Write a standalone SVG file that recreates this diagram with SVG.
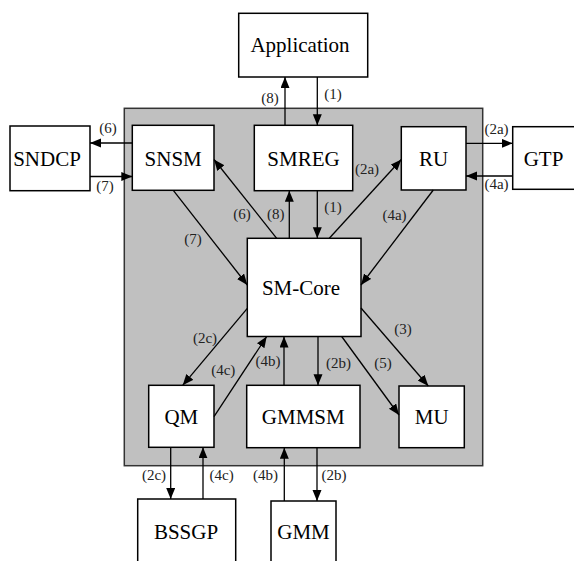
<svg xmlns="http://www.w3.org/2000/svg" width="574" height="561" viewBox="0 0 574 561">
  <defs>
    <marker id="arrow" markerUnits="userSpaceOnUse" markerWidth="12" markerHeight="10" refX="11" refY="4.5" orient="auto">
      <path d="M0,0 L11,4.5 L0,9 z" fill="#000"/>
    </marker>
    <style>
      .box { fill: #fff; stroke: #000; stroke-width: 1.5; }
      .frame { fill: #c0c0c0; stroke: #333; stroke-width: 1.5; }
      .name { font-size: 21px; text-anchor: middle; fill: #000; }
      .lbl { font-size: 15px; text-anchor: middle; fill: #222; }
      .conn line { stroke: #000; stroke-width: 1.3; marker-end: url(#arrow); }
    </style>
  </defs>

  <rect width="574" height="561" fill="#fff"/>

  <!-- SM subsystem frame -->
  <rect id="sm-frame" class="frame" x="124.3" y="108.3" width="358.4" height="357.4"/>

  <g font-family="Liberation Serif, Times New Roman, serif">
    <!-- external entities -->
    <g id="application">
      <rect class="box" x="238.7" y="13.3" width="129" height="63.7"/>
      <text class="name" x="300" y="52">Application</text>
    </g>
    <g id="sndcp">
      <rect class="box" x="10" y="126" width="80" height="64.7"/>
      <text class="name" x="47" y="166">SNDCP</text>
    </g>
    <g id="gtp">
      <rect class="box" x="512.7" y="126.7" width="70" height="62.6"/>
      <text class="name" x="543.5" y="165.5">GTP</text>
    </g>
    <g id="bssgp">
      <rect class="box" x="137.7" y="499" width="98" height="70"/>
      <text class="name" x="186" y="539">BSSGP</text>
    </g>
    <g id="gmm">
      <rect class="box" x="271" y="501" width="65" height="70"/>
      <text class="name" x="303.5" y="539">GMM</text>
    </g>

    <!-- internal modules -->
    <g id="snsm">
      <rect class="box" x="132.3" y="125.3" width="81.7" height="65"/>
      <text class="name" x="173.2" y="165.5">SNSM</text>
    </g>
    <g id="smreg">
      <rect class="box" x="254.3" y="125.3" width="98.4" height="65.4"/>
      <text class="name" x="303.5" y="165.5">SMREG</text>
    </g>
    <g id="ru">
      <rect class="box" x="401.3" y="126.7" width="64.7" height="63.3"/>
      <text class="name" x="433.7" y="165.5">RU</text>
    </g>
    <g id="sm-core">
      <rect class="box" x="247.3" y="238.3" width="113.7" height="98.2"/>
      <text class="name" x="301" y="294.5">SM-Core</text>
    </g>
    <g id="qm">
      <rect class="box" x="148.7" y="385.3" width="65.3" height="62"/>
      <text class="name" x="181.3" y="424">QM</text>
    </g>
    <g id="gmmsm">
      <rect class="box" x="246.7" y="385.3" width="113.3" height="62.4"/>
      <text class="name" x="303.3" y="424">GMMSM</text>
    </g>
    <g id="mu">
      <rect class="box" x="399" y="386" width="65.3" height="61.7"/>
      <text class="name" x="431.7" y="424">MU</text>
    </g>

    <!-- connectors -->
    <g id="connectors" class="conn">
      <line x1="317.3" y1="77" x2="317.3" y2="125.3"/>
      <line x1="285" y1="125.3" x2="285" y2="77"/>
      <line x1="132.3" y1="143" x2="90" y2="143"/>
      <line x1="90" y1="176.5" x2="132.3" y2="176.5"/>
      <line x1="466" y1="143.3" x2="512.7" y2="143.3"/>
      <line x1="512.7" y1="176" x2="466" y2="176"/>
      <line x1="317.3" y1="190.7" x2="317.3" y2="238.3"/>
      <line x1="289.3" y1="238.3" x2="289.3" y2="190.7"/>
      <line x1="173.3" y1="190.3" x2="247.3" y2="285"/>
      <line x1="276.7" y1="238.3" x2="214" y2="159.5"/>
      <line x1="329.3" y1="238.3" x2="401.3" y2="159.5"/>
      <line x1="433.3" y1="190" x2="361" y2="285"/>
      <line x1="247.3" y1="308.3" x2="182.7" y2="385.3"/>
      <line x1="214" y1="416.7" x2="266.7" y2="336.5"/>
      <line x1="284" y1="385.3" x2="284" y2="336.5"/>
      <line x1="318" y1="336.5" x2="318" y2="385.3"/>
      <line x1="341.7" y1="336.5" x2="399" y2="415"/>
      <line x1="361" y1="308" x2="428.3" y2="386"/>
      <line x1="170.7" y1="447.3" x2="170.7" y2="499"/>
      <line x1="203" y1="499" x2="203" y2="447.3"/>
      <line x1="284.3" y1="501" x2="284.3" y2="447.7"/>
      <line x1="317" y1="447.7" x2="317" y2="501"/>
    </g>

    <!-- connector labels -->
    <g id="labels">
      <text class="lbl" x="270" y="103">(8)</text>
      <text class="lbl" x="333" y="99">(1)</text>
      <text class="lbl" x="108" y="133">(6)</text>
      <text class="lbl" x="105" y="191">(7)</text>
      <text class="lbl" x="496.5" y="134">(2a)</text>
      <text class="lbl" x="496.5" y="189">(4a)</text>
      <text class="lbl" x="367" y="174">(2a)</text>
      <text class="lbl" x="242" y="219">(6)</text>
      <text class="lbl" x="275.7" y="219">(8)</text>
      <text class="lbl" x="193" y="244">(7)</text>
      <text class="lbl" x="333" y="212">(1)</text>
      <text class="lbl" x="394.5" y="220">(4a)</text>
      <text class="lbl" x="205" y="343">(2c)</text>
      <text class="lbl" x="223.3" y="375">(4c)</text>
      <text class="lbl" x="268" y="366">(4b)</text>
      <text class="lbl" x="403" y="334">(3)</text>
      <text class="lbl" x="338.5" y="368">(2b)</text>
      <text class="lbl" x="383" y="368">(5)</text>
      <text class="lbl" x="154" y="480">(2c)</text>
      <text class="lbl" x="221.7" y="480">(4c)</text>
      <text class="lbl" x="265.5" y="480">(4b)</text>
      <text class="lbl" x="334" y="480">(2b)</text>
    </g>
  </g>
</svg>
